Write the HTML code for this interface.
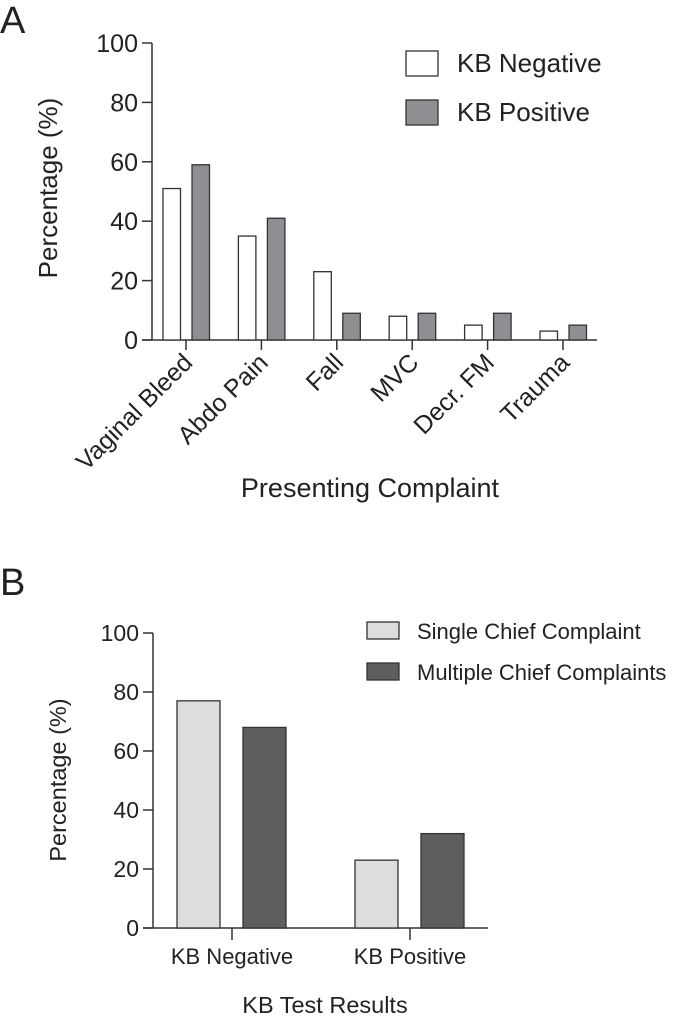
<!DOCTYPE html>
<html><head><meta charset="utf-8"><style>
html,body{margin:0;padding:0;background:#fff;}
svg{display:block;font-family:"Liberation Sans",Arial,sans-serif;}
</style></head><body>
<svg id="fig" width="685" height="1020" viewBox="0 0 685 1020">
<g id="chartA"></g>
<g id="chartB"></g>
</svg>
<script>
const NS="http://www.w3.org/2000/svg";
// Chart A data
const catsA=["Vaginal Bleed","Abdo Pain","Fall","MVC","Decr. FM","Trauma"];
const negA=[51,35,23,8,5,3];
const posA=[59,41,9,9,9,5];
const ticksA=[0,20,40,60,80,100];
// Chart B data
const catsB=["KB Negative","KB Positive"];
const singleB=[77,23];
const multiB=[68,32];
const ticksB=[0,20,40,60,80,100];

function mk(parent,tag,attrs,name,text){
  const el=document.createElementNS(NS,tag);
  for(const k in attrs) el.setAttribute(k,attrs[k]);
  
  
  if(text!==undefined) el.textContent=text;
  parent.appendChild(el);
  return el;
}

// ---- Chart A ----
(function(){
  const g=document.getElementById('chartA');
  const y=v=>340-v*2.97;
  const tickX=i=>186+i*75.4;
  mk(g,'text',{x:0,y:33,'font-size':38,fill:'#222'},'panel-label-a','A');
  mk(g,'line',{x1:152,y1:y(100),x2:152,y2:340,stroke:'#333','stroke-width':1.5},'y-axis-a');
  mk(g,'line',{x1:142,y1:340,x2:597,y2:340,stroke:'#333','stroke-width':1.5},'x-axis-a');
  ticksA.forEach(t=>{
    mk(g,'line',{x1:142,y1:y(t),x2:152,y2:y(t),stroke:'#333','stroke-width':1.5},'y-tick');
    mk(g,'text',{x:138,y:y(t)+9,'font-size':25,'text-anchor':'end',fill:'#222'},'y-tick-label',t);
  });
  mk(g,'text',{x:0,y:0,'font-size':26,'text-anchor':'middle',fill:'#222',transform:'translate(57,188) rotate(-90)'},'y-axis-title-a','Percentage (%)');
  catsA.forEach((c,i)=>{
    const tx=tickX(i);
    mk(g,'line',{x1:tx,y1:340,x2:tx,y2:350,stroke:'#333','stroke-width':1.5},'x-tick');
    mk(g,'rect',{x:tx-23,y:y(negA[i]),width:17.5,height:340-y(negA[i]),fill:'#fff',stroke:'#333','stroke-width':1.3},'bar-negative-'+i);
    mk(g,'rect',{x:tx+6,y:y(posA[i]),width:17.5,height:340-y(posA[i]),fill:'#8e8f93',stroke:'#333','stroke-width':1.3},'bar-positive-'+i);
    mk(g,'text',{x:0,y:0,'font-size':25,'text-anchor':'end',fill:'#222',transform:`translate(${tx+8},${364}) rotate(-45)`},'x-tick-label',c);
  });
  mk(g,'text',{x:370,y:497,'font-size':27,'text-anchor':'middle',fill:'#222'},'x-axis-title-a','Presenting Complaint');
  mk(g,'rect',{x:406,y:51,width:32,height:25,fill:'#fff',stroke:'#333','stroke-width':1.3},'legend-swatch-negative');
  mk(g,'text',{x:457,y:72,'font-size':26,fill:'#222'},'legend-label-negative','KB Negative');
  mk(g,'rect',{x:406,y:100,width:32,height:25,fill:'#8e8f93',stroke:'#333','stroke-width':1.3},'legend-swatch-positive');
  mk(g,'text',{x:457,y:121,'font-size':26,fill:'#222'},'legend-label-positive','KB Positive');
})();

// ---- Chart B ----
(function(){
  const g=document.getElementById('chartB');
  const y=v=>928-v*2.95;
  const tickX=i=>232+i*178;
  mk(g,'text',{x:0,y:595,'font-size':38,fill:'#222'},'panel-label-b','B');
  mk(g,'line',{x1:153,y1:y(100),x2:153,y2:928,stroke:'#333','stroke-width':1.5},'y-axis-b');
  mk(g,'line',{x1:143,y1:928,x2:488,y2:928,stroke:'#333','stroke-width':1.5},'x-axis-b');
  ticksB.forEach(t=>{
    mk(g,'line',{x1:143,y1:y(t),x2:153,y2:y(t),stroke:'#333','stroke-width':1.5},'y-tick');
    mk(g,'text',{x:139,y:y(t)+8,'font-size':23,'text-anchor':'end',fill:'#222'},'y-tick-label',t);
  });
  mk(g,'text',{x:0,y:0,'font-size':23.5,'text-anchor':'middle',fill:'#222',transform:'translate(66,780) rotate(-90)'},'y-axis-title-b','Percentage (%)');
  catsB.forEach((c,i)=>{
    const tx=tickX(i);
    mk(g,'line',{x1:tx,y1:928,x2:tx,y2:940,stroke:'#333','stroke-width':1.5},'x-tick');
    mk(g,'rect',{x:tx-55,y:y(singleB[i]),width:43,height:928-y(singleB[i]),fill:'#dcdddf',stroke:'#333','stroke-width':1.3},'bar-single-'+i);
    mk(g,'rect',{x:tx+11,y:y(multiB[i]),width:43,height:928-y(multiB[i]),fill:'#5d5e60',stroke:'#333','stroke-width':1.3},'bar-multiple-'+i);
    mk(g,'text',{x:tx,y:964,'font-size':22,'text-anchor':'middle',fill:'#222'},'x-tick-label',c);
  });
  mk(g,'text',{x:325,y:1013,'font-size':23.5,'text-anchor':'middle',fill:'#222'},'x-axis-title-b','KB Test Results');
  mk(g,'rect',{x:367,y:622,width:32,height:17,fill:'#dcdddf',stroke:'#333','stroke-width':1.3},'legend-swatch-single');
  mk(g,'text',{x:417,y:639,'font-size':22,fill:'#222'},'legend-label-single','Single Chief Complaint');
  mk(g,'rect',{x:367,y:663,width:32,height:17,fill:'#5d5e60',stroke:'#333','stroke-width':1.3},'legend-swatch-multiple');
  mk(g,'text',{x:417,y:680,'font-size':22,fill:'#222'},'legend-label-multiple','Multiple Chief Complaints');
})();
</script>
</body></html>
